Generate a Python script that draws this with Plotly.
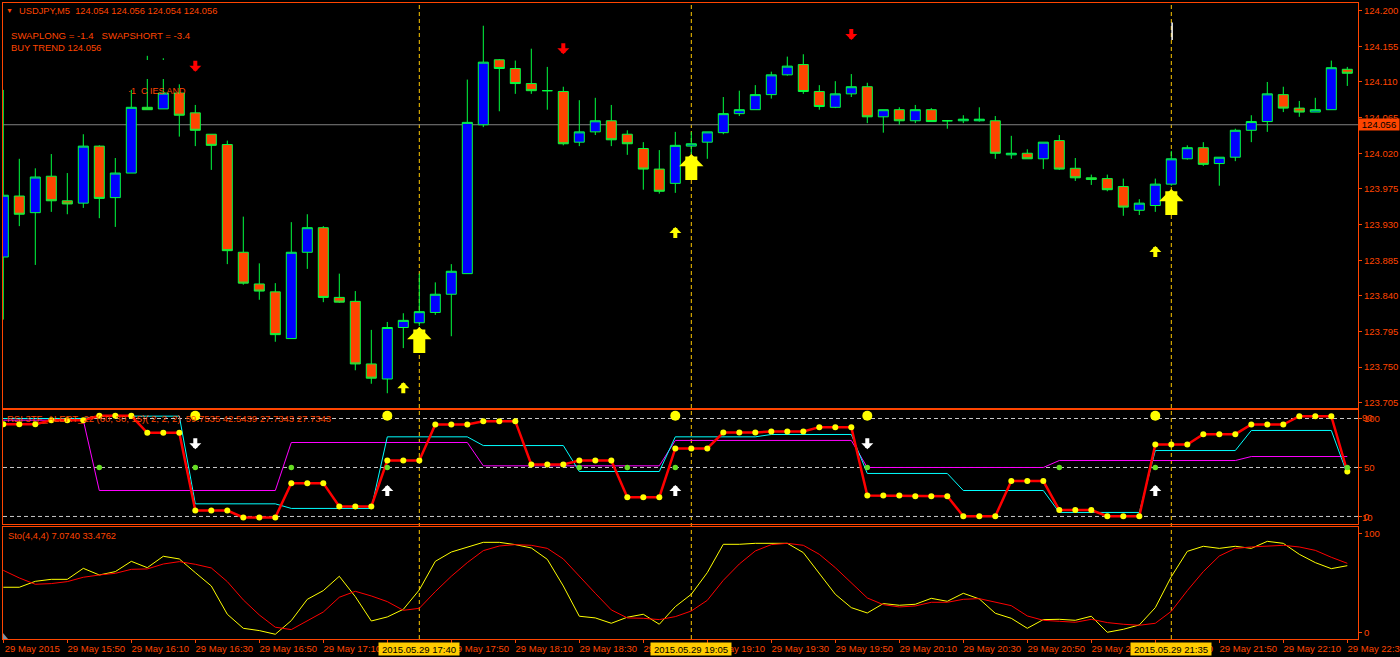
import plotly.graph_objects as go

W, H = 1400, 657
ORANGE = "#ff4500"
FONT = "Liberation Sans"

candle_index = list(range(85))
highs = [124.100,124.013,124.001,124.019,123.995,124.044,124.030,124.014,124.100,124.143,
         124.140,124.107,124.081,124.044,124.036,123.940,123.881,123.856,123.933,123.943,
         123.928,123.868,123.846,123.797,123.807,123.818,123.868,123.857,123.880,124.113,
         124.181,124.139,124.137,124.152,124.129,124.104,124.087,124.090,124.081,124.049,
         124.034,124.024,124.047,124.047,124.047,124.091,124.099,124.106,124.123,124.142,
         124.145,124.106,124.111,124.120,124.109,124.075,124.078,124.081,124.077,124.062,
         124.068,124.078,124.067,124.042,124.025,124.034,124.043,124.014,123.993,123.993,
         123.988,123.962,123.988,124.023,124.030,124.034,124.015,124.051,124.068,124.110,
         124.104,124.086,124.090,124.137,124.129]
opens = [123.889,123.966,123.945,123.991,123.960,123.957,124.029,123.964,123.995,124.078,
         124.076,124.096,124.071,124.044,124.031,123.895,123.855,123.845,123.786,123.895,
         123.926,123.838,123.833,123.754,123.735,123.800,123.806,123.819,123.842,123.868,
         124.056,124.138,124.127,124.108,124.099,124.098,124.034,124.047,124.061,124.044,
         124.026,124.000,123.982,124.029,124.034,124.046,124.070,124.075,124.094,124.119,
         124.132,124.098,124.078,124.095,124.104,124.066,124.075,124.061,124.075,124.061,
         124.061,124.061,124.061,124.018,124.020,124.013,124.036,124.001,123.989,123.988,
         123.978,123.948,123.954,123.981,124.013,124.027,124.007,124.015,124.049,124.060,
         124.094,124.077,124.072,124.075,124.126]
closes = [123.967,123.943,123.990,123.960,123.956,124.029,123.963,123.995,124.078,124.075,
          124.096,124.068,124.049,124.030,123.897,123.856,123.846,123.791,123.895,123.926,
          123.838,123.832,123.754,123.736,123.800,123.809,123.820,123.842,123.871,124.059,
          124.135,124.127,124.108,124.099,124.099,124.032,124.047,124.061,124.037,124.032,
          124.000,123.972,124.030,124.032,124.047,124.070,124.075,124.094,124.119,124.130,
          124.098,124.079,124.095,124.104,124.066,124.075,124.061,124.075,124.060,124.061,
          124.063,124.063,124.020,124.020,124.013,124.034,124.000,123.989,123.987,123.974,
          123.952,123.957,123.981,124.013,124.027,124.006,124.015,124.049,124.060,124.095,
          124.077,124.072,124.075,124.128,124.121]
lows = [123.810,123.928,123.879,123.946,123.943,123.951,123.938,123.927,123.995,124.075,
        124.076,124.041,124.029,123.999,123.880,123.854,123.835,123.782,123.786,123.874,
        123.832,123.831,123.746,123.729,123.717,123.774,123.802,123.816,123.789,123.868,
        124.053,124.073,124.095,124.095,124.075,124.030,124.029,124.043,124.029,124.018,
        123.974,123.969,123.970,124.019,124.013,124.044,124.067,124.075,124.089,124.118,
        124.095,124.075,124.077,124.091,124.058,124.046,124.056,124.058,124.060,124.051,
        124.058,124.060,124.013,124.013,124.013,124.000,123.999,123.985,123.980,123.972,
        123.941,123.942,123.946,123.979,124.012,124.004,123.979,124.010,124.034,124.047,
        124.072,124.066,124.072,124.075,124.105]

rsi_main = [94.2,94.2,94.2,98.3,98.3,98.3,102.7,102.7,102.7,85.4,
            85.4,85.4,6.1,6.1,6.1,-1.0,-1.0,-1.0,34.0,34.0,
            34.0,10.2,10.2,10.2,57.1,57.1,57.1,93.9,93.9,93.9,
            97.3,97.3,97.3,53.1,53.1,53.1,57.1,57.1,57.1,19.7,
            19.7,19.7,69.4,69.4,69.4,85.7,85.7,85.7,86.7,86.7,
            86.7,91.2,91.2,91.2,21.4,21.4,21.4,20.7,20.7,20.7,
            0.3,0.3,0.3,36.1,36.1,36.1,6.5,6.5,6.5,0.3,
            0.3,0.3,73.5,73.5,73.5,84.0,84.0,84.0,93.9,93.9,
            93.9,102.4,102.4,102.4,45.9]
rsi_cyan = [100.0,100.0,100.0,100.0,100.0,100.0,102.4,102.4,102.4,102.4,
            102.4,102.4,12.9,12.9,12.9,12.9,12.9,12.9,8.2,8.2,
            8.2,8.2,8.2,8.2,81.3,81.3,81.3,81.3,81.3,81.3,
            72.4,72.4,72.4,72.4,72.4,72.4,45.9,45.9,45.9,45.9,
            45.9,45.9,81.3,81.3,81.3,81.3,81.3,81.3,83.7,83.7,
            83.7,83.7,83.7,83.7,43.9,43.9,43.9,43.9,43.9,43.9,
            26.5,26.5,26.5,26.5,26.5,26.5,4.1,4.1,4.1,4.1,
            4.1,4.1,67.3,67.3,67.3,67.3,67.3,67.3,87.8,87.8,
            87.8,87.8,87.8,87.8,43.2]
rsi_magenta = [98.3,98.3,98.3,98.3,98.3,98.3,26.5,26.5,26.5,26.5,
               26.5,26.5,26.5,26.5,26.5,26.5,26.5,26.5,75.5,75.5,
               75.5,75.5,75.5,75.5,75.5,75.5,75.5,75.5,75.5,75.5,
               51.7,51.7,51.7,51.7,51.7,51.7,51.7,51.7,51.7,51.7,
               51.7,51.7,77.6,77.6,77.6,77.6,77.6,77.6,77.6,77.6,
               77.6,77.6,77.6,77.6,50.0,50.0,50.0,50.0,50.0,50.0,
               50.0,50.0,50.0,50.0,50.0,50.0,57.1,57.1,57.1,57.1,
               57.1,57.1,57.1,57.1,57.1,57.1,57.1,57.1,61.2,61.2,
               61.2,61.2,61.2,61.2,61.2]
green_dot_index = [6, 12, 18, 24, 36, 39, 42, 54, 66, 72, 84]
green_dot_value = [50, 50, 50, 50, 50, 50, 50, 50, 50, 50, 50]
signal_dot_index = [12, 24, 42, 54, 72]
signal_dot_value = [102.9, 102.9, 102.9, 102.9, 102.9]

sto_main = [45.5,45.5,51.5,53.5,53.5,64.6,57.9,61.3,71.7,65.3,
            76.8,74.1,60.3,46.8,18.2,4.0,1.7,-2.0,11.8,33.3,
            42.1,56.6,36.0,11.4,15.5,23.2,42.8,71.7,81.1,85.9,
            90.9,90.9,88.6,85.2,73.7,46.8,16.2,14.5,9.1,15.2,
            18.2,8.1,25.9,38.4,60.3,88.9,88.9,89.9,89.9,89.9,
            80.5,59.6,38.4,24.9,19.5,29.0,27.3,28.3,34.3,31.3,
            39.4,33.7,19.2,14.1,4.0,12.8,13.1,12.1,16.2,0.0,
            3.0,7.4,24.9,56.2,81.8,86.9,84.8,86.9,84.8,91.9,
            89.9,78.8,70.4,64.3,67.3]
sto_signal = [62.6,54.9,48.5,49.2,51.2,55.6,57.9,59.6,63.6,64.0,
              69.0,71.4,68.7,65.0,51.2,32.7,17.5,5.1,2.7,11.4,
              20.5,35.4,41.4,36.7,31.0,22.2,24.2,41.1,56.6,70.4,
              82.5,87.2,88.6,87.9,84.8,74.1,56.2,39.4,22.6,14.5,
              14.1,12.8,15.8,21.5,32.3,52.5,69.0,82.2,88.6,89.9,
              87.9,78.8,65.3,49.5,34.7,27.9,25.6,26.6,30.3,30.3,
              33.3,34.0,30.3,26.9,16.5,12.1,11.1,10.1,13.1,9.8,
              8.1,7.1,9.1,21.2,42.1,61.3,77.1,84.8,86.2,86.9,
              87.9,86.2,82.8,75.8,69.7]

price_ticks = [124.200,124.155,124.110,124.065,124.020,123.975,123.930,123.885,123.840,123.795,123.750,123.705]
time_tick_index = [0,4,8,12,16,20,24,28,32,36,40,44,48,52,56,60,64,68,72,76,80,84]
time_tick_text = ["29 May 2015","29 May 15:50","29 May 16:10","29 May 16:30","29 May 16:50","29 May 17:10",
                  "29 May 17:30","29 May 17:50","29 May 18:10","29 May 18:30","29 May 18:50","29 May 19:10",
                  "29 May 19:30","29 May 19:50","29 May 20:10","29 May 20:30","29 May 20:50","29 May 21:10",
                  "29 May 21:30","29 May 21:50","29 May 22:10","29 May 22:30"]
cross_index = [26, 43, 73]
cross_text = ["2015.05.29 17:40", "2015.05.29 19:05", "2015.05.29 21:35"]
big_up_index = [26, 43, 73]
big_up_price = [123.8006, 124.019, 123.975]
small_up_index = [25, 42, 72]
small_up_price = [123.731, 123.927, 123.903]
red_down_index = [12, 35, 53]
red_down_price = [124.123, 124.145, 124.163]
white_index = [12, 24, 42, 54, 72]
white_value = [68.6, 32.1, 32.1, 68.6, 32.1]
white_dir = ["down", "up", "up", "down", "up"]
current_price = 124.056


def px_y(p):
    return 1 - p / H


x_dom = [3 / W, 1358 / W]
x_rng = [(3 - 3.3) / 16, (1358 - 3.3) / 16]

fig = go.Figure()
fig.add_trace(go.Candlestick(
    x=candle_index, open=opens, high=highs, low=lows, close=closes, xaxis="x", yaxis="y",
    increasing=dict(fillcolor="#0000ff", line=dict(color="#00ff40", width=1)),
    decreasing=dict(fillcolor=ORANGE, line=dict(color="#00ff40", width=1)),
    hoverinfo="skip", showlegend=False))

fig.add_trace(go.Scatter(x=candle_index, y=rsi_magenta, mode="lines", xaxis="x2", yaxis="y2",
                         line=dict(color="#ff00ff", width=1), hoverinfo="skip", showlegend=False))
fig.add_trace(go.Scatter(x=candle_index, y=rsi_cyan, mode="lines", xaxis="x2", yaxis="y2",
                         line=dict(color="#00ffff", width=1), hoverinfo="skip", showlegend=False))
fig.add_trace(go.Scatter(x=candle_index, y=rsi_main, mode="lines+markers", xaxis="x2", yaxis="y2",
                         line=dict(color="#ff0000", width=2.5), marker=dict(color="#ffff00", size=6),
                         hoverinfo="skip", showlegend=False))
fig.add_trace(go.Scatter(x=green_dot_index, y=green_dot_value, mode="markers", xaxis="x2", yaxis="y2",
                         marker=dict(color="#66dd22", size=5.5), hoverinfo="skip", showlegend=False))
fig.add_trace(go.Scatter(x=signal_dot_index, y=signal_dot_value, mode="markers", xaxis="x2", yaxis="y2",
                         marker=dict(color="#ffff00", size=10), hoverinfo="skip", showlegend=False))

fig.add_trace(go.Scatter(x=candle_index, y=sto_main, mode="lines", xaxis="x3", yaxis="y3",
                         line=dict(color="#ffff00", width=1), hoverinfo="skip", showlegend=False))
fig.add_trace(go.Scatter(x=candle_index, y=sto_signal, mode="lines", xaxis="x3", yaxis="y3",
                         line=dict(color="#ff0000", width=1), hoverinfo="skip", showlegend=False))

shapes = []
shapes.append(dict(type="line", xref="x", yref="y", x0=x_rng[0], x1=x_rng[1], y0=current_price, y1=current_price,
                   line=dict(color="#808080", width=1), layer="below"))
for lvl in (100, 50, 0):
    shapes.append(dict(type="line", xref="x2", yref="y2", x0=x_rng[0], x1=x_rng[1], y0=lvl, y1=lvl,
                       line=dict(color="#c8c8c8", width=1, dash="4px,3px"), layer="below"))
for i in cross_index:
    shapes.append(dict(type="line", xref="x", yref="paper", x0=i, x1=i, y0=px_y(639), y1=px_y(3),
                       line=dict(color="#ffc800", width=1, dash="4px,3px"), layer="below"))
shapes.append(dict(type="rect", xref="paper", yref="paper", x0=140 / W, x1=170 / W, y0=px_y(79), y1=px_y(60),
                   fillcolor="#000000", line=dict(width=0), layer="above"))
shapes.append(dict(type="line", xref="x", yref="y", x0=73.05, x1=73.05, y0=124.185, y1=124.163,
                   line=dict(color="#ffffff", width=1.5)))
shapes.append(dict(type="path", xref="paper", yref="paper",
                   path=f"M {3/W} {px_y(639)} L {8/W} {px_y(639)} L {3/W} {px_y(633)} Z",
                   fillcolor="#8090a0", line=dict(width=0)))

ann = []


def txt(x, y, s, size=9.4, color=ORANGE):
    ann.append(dict(xref="paper", yref="paper", x=x / W, y=px_y(y), text=s, showarrow=False,
                    xanchor="left", yanchor="middle", font=dict(family=FONT, size=size, color=color),
                    borderpad=0, borderwidth=0))


txt(6, 10.5, "▼", 7)
txt(18.5, 10.5, "USDJPY,M5&nbsp;&nbsp;124.054 124.056 124.054 124.056", 9.3)
txt(10.5, 35.5, "SWAPLONG = -1.4&nbsp;&nbsp;&nbsp;SWAPSHORT = -3.4", 9.6)
txt(10.5, 47.5, "BUY TREND 124.056")
txt(128, 91, "·1&nbsp;&nbsp;C IES AND", 9)
txt(7, 418, "RSI 3TF_ALERT_22 (60, 30, 15)( 2, 2, 2)&nbsp;&nbsp;59.7535 42.5439 27.7343 27.7343", 9.5)
txt(8, 535.5, "Sto(4,4,4) 7.0740 33.4762", 9.3)


def arrow(x, y, xref, yref, color, width, size, length, down=False):
    ann.append(dict(x=x, y=y, xref=xref, yref=yref, ax=0, ay=-length if down else length,
                    axref="pixel", ayref="pixel", text=" ", font=dict(size=1), showarrow=True,
                    arrowhead=1, arrowwidth=width, arrowsize=size, arrowcolor=color, standoff=0, startstandoff=0))


for i, p in zip(big_up_index, big_up_price):
    arrow(i, p, "x", "y", "#ffff00", 12, 0.34, 28)
for i, p in zip(small_up_index, small_up_price):
    arrow(i, p, "x", "y", "#ffff00", 4, 0.5, 13)
for i, p in zip(red_down_index, red_down_price):
    arrow(i, p, "x", "y", "#ff0000", 4, 0.5, 13, down=True)
for i, v, d in zip(white_index, white_value, white_dir):
    arrow(i, v, "x2", "y2", "#ffffff", 4, 0.5, 13, down=d == "down")

ann.append(dict(xref="paper", yref="y", x=1, y=current_price, text=f"{current_price:.3f}", showarrow=False,
                xanchor="right", yanchor="middle", width=40, height=11, bgcolor=ORANGE, borderpad=0,
                font=dict(family=FONT, size=9.5, color="#000000"), align="center"))
for lab, y in (("90", 417), ("10", 517)):
    txt(1362, y, lab, 9.5)
for i, s in zip(cross_index, cross_text):
    ann.append(dict(xref="x3", yref="paper", x=i, y=px_y(649), text=s, showarrow=False,
                    xanchor="center", yanchor="middle", width=80, height=12, bgcolor="#ffcc00", borderpad=0,
                    font=dict(family=FONT, size=9.5, color="#000000"), align="center"))

tickfont = dict(family=FONT, size=9.5, color=ORANGE)
frame = dict(showline=True, mirror=True, linecolor=ORANGE, linewidth=1, showgrid=False, zeroline=False)
x_common = dict(domain=x_dom, range=x_rng, **frame)

fig.update_layout(
    width=W, height=H, margin=dict(l=0, r=0, t=0, b=0, autoexpand=False), paper_bgcolor="#000000",
    plot_bgcolor="#000000",
    showlegend=False, shapes=shapes, annotations=ann, font=dict(family=FONT, color=ORANGE),
    boxgap=0.375, boxgroupgap=0,
    xaxis=dict(anchor="y", showticklabels=False, ticks="", rangeslider=dict(visible=False), **x_common),
    xaxis2=dict(anchor="y2", matches="x", showticklabels=False, ticks="", **x_common),
    xaxis3=dict(anchor="y3", matches="x", tickmode="array", tickvals=time_tick_index, ticktext=time_tick_text,
                ticks="outside", ticklen=3, tickwidth=1, tickcolor=ORANGE, tickfont=tickfont, tickangle=0,
                ticklabelshift=29, ticklabelstandoff=-2, ticklabeloverflow="allow", **x_common),
    yaxis=dict(domain=[px_y(407.5), px_y(3)], range=[123.699, 124.2097], anchor="x", side="right",
               tickmode="array", tickvals=price_ticks, ticktext=[f"{p:.3f}" for p in price_ticks],
               ticks="outside", ticklen=3, tickcolor=ORANGE, tickfont=tickfont, **frame),
    yaxis2=dict(domain=[px_y(524.3), px_y(409.5)], range=[-8.0, 109.2], anchor="x2", side="right",
                tickmode="array", tickvals=[100, 50, 0], ticktext=["100", "50", "0"],
                ticks="outside", ticklen=3, tickcolor=ORANGE, tickfont=tickfont, **frame),
    yaxis3=dict(domain=[px_y(639), px_y(526.5)], range=[-6.8, 106.9], anchor="x3", side="right",
                tickmode="array", tickvals=[100, 0], ticktext=["100", "0"],
                ticks="outside", ticklen=3, tickcolor=ORANGE, tickfont=tickfont, **frame),
)

fig.write_html("out.html", config=dict(displayModeBar=False),
               post_script="document.body.style.margin='0';document.body.style.background='#000';document.body.style.overflow='hidden';")
